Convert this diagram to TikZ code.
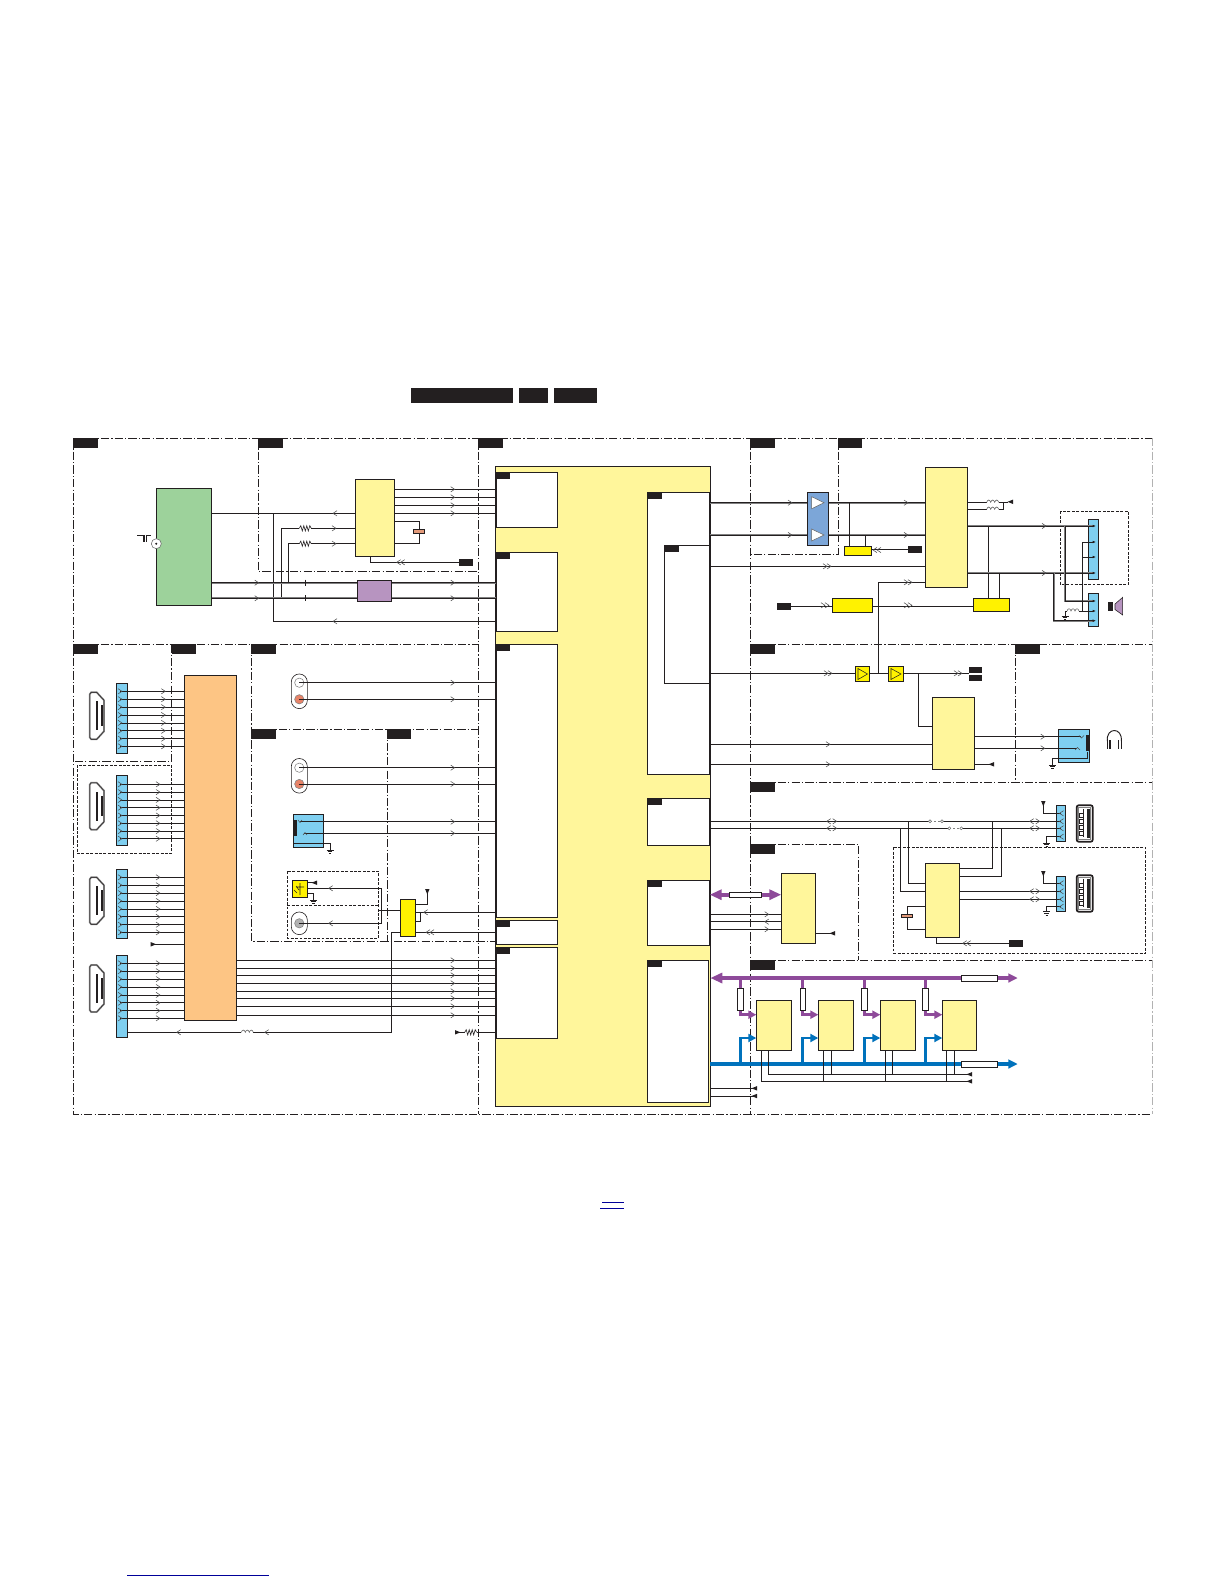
\documentclass[tikz,border=0pt]{standalone}
\usetikzlibrary{arrows.meta}
\definecolor{ylw}{HTML}{FFF69B}
\definecolor{byl}{HTML}{FFF200}
\definecolor{grn}{HTML}{9DD29B}
\definecolor{org}{HTML}{FDC584}
\definecolor{pur}{HTML}{B794C0}
\definecolor{cbl}{HTML}{7FCFF0}
\definecolor{abl}{HTML}{7CA6D8}
\definecolor{pbs}{HTML}{8E4A9A}
\definecolor{bbs}{HTML}{0072BC}
\definecolor{cap}{HTML}{E39A7A}
\definecolor{blk}{HTML}{231F20}
\definecolor{lnk}{HTML}{000099}
\tikzset{
  bx/.style={draw=blk,line width=.65pt,inner sep=0pt,outer sep=0pt,rectangle},
  yb/.style={bx,fill=ylw},
  wb/.style={bx,fill=white},
  bb/.style={bx,fill=byl},
  cb/.style={bx,fill=cbl},
  lab/.style={fill=blk,inner sep=0pt,outer sep=0pt,rectangle},
  rgn/.style={draw=blk,line width=.6pt,dash pattern=on 6.2pt off 1.6pt on .9pt off 1.6pt},
  dsh/.style={draw=blk,line width=.6pt,dash pattern=on 2.2pt off 1.1pt},
  wire/.style={draw=blk,line width=.6pt},
  gbus/.style={draw=gray,line width=1.4pt,postaction={draw=blk,line width=.55pt}},
  chev/.style={draw=black!70,line width=.4pt},
  pb/.style={draw=pbs,line width=3pt},
  pb2/.style={draw=pbs,line width=2pt},
  lb/.style={draw=bbs,line width=3pt},
  lb2/.style={draw=bbs,line width=2pt},
  tipB/.style={-{Triangle[length=7pt,width=6.5pt]}},
  tipS/.style={-{Triangle[length=6pt,width=6pt]}},
}
\newcommand\bx[6]{\pgfmathsetmacro\bxw{(#5-#3)*0.75}\pgfmathsetmacro\bxh{(#6-#4)*0.75}%
  \node[#1,minimum width=\bxw pt,minimum height=\bxh pt] (#2) at ({(#3+#5)/2},{(#4+#6)/2}) {};}
\newcommand\hw[4][wire]{\draw[#1] (#2.east |- 0,#4) -- (#3.west |- 0,#4);}
\newcommand\ar[2]{\draw[chev] (#1,#2) ++(-2,-2.6) -- ++(4,2.6) -- ++(-4,2.6);}
\newcommand\al[2]{\draw[chev] (#1,#2) ++(2,-2.6) -- ++(-4,2.6) -- ++(4,2.6);}
\newcommand\arr[2]{\ar{#1-2}{#2}\ar{#1+2}{#2}}
\newcommand\all[2]{\al{#1-2}{#2}\al{#1+2}{#2}}
\newcommand\ab[2]{\draw[chev] (#1,#2) ++(-1,-2.6) -- ++(-4,2.6) -- ++(4,2.6) ++(2,-5.2) -- ++(4,2.6) -- ++(-4,2.6);}
\newcommand\tmL[2]{\fill[blk] (#1,#2-2.2) -- (#1,#2+2.2) -- (#1+5.5,#2) -- cycle;}
\newcommand\tmR[2]{\fill[blk] (#1,#2-2.2) -- (#1,#2+2.2) -- (#1-5.5,#2) -- cycle;}
\newcommand\tmD[2]{\fill[blk] (#1-2.2,#2) -- (#1+2.2,#2) -- (#1,#2+5.5) -- cycle;}
\newcommand\gnd[2]{\draw[wire,line width=.5pt] (#1-3.5,#2) -- ++(7,0) (#1-2.3,#2+1.6) -- ++(4.6,0) (#1-1.2,#2+3.2) -- ++(2.4,0);}
\newcommand\res[2]{\draw[draw=white,line width=1.2pt] (#1-6,#2) -- ++(12,0);
  \draw[wire,line width=.45pt] (#1-6,#2) -- ++(1.5,-2.6) -- ++(1.5,5.2) -- ++(1.5,-5.2) -- ++(1.5,5.2) -- ++(1.5,-5.2) -- ++(1.5,5.2) -- ++(1.5,-5.2) -- ++(1.5,2.6);}
\newcommand\fus[2]{\draw[draw=white,line width=1.2pt] (#1-6,#2) -- ++(12,0);
  \draw[draw=black!60,line width=.45pt] (#1-6,#2) .. controls (#1-5,#2-3) and (#1-3,#2-3) .. (#1-2,#2) .. controls (#1-1,#2-3) and (#1+1,#2-3) .. (#1+2,#2) .. controls (#1+3,#2-3) and (#1+5,#2-3) .. (#1+6,#2);}
\newcommand\tick[2]{\draw[wire] (#1,#2-3) -- ++(0,6);}
\newcommand\hdmi[1]{\begin{scope}[shift={(89.7,#1)}]
  \draw[draw=gray,line width=1.3pt,fill=white,postaction={draw=blk,line width=.3pt}] (1.5,0) -- (7,0) -- (14.3,8) -- (14.3,39) -- (7,47) -- (1.5,47) -- (0,45) -- (0,2) -- cycle;
  \fill[blk] (6.4,9) rectangle (8.6,38);
  \fill[blk] (11.3,13) rectangle (13,33.5);
\end{scope}}
\newcommand\usbs[2]{\begin{scope}[shift={(#1,#2)}]
  \draw[draw=blk,line width=1.3pt,rounded corners=1.5pt,fill=white] (0,0) rectangle (16,36.4);
  \draw[draw=gray,line width=.5pt] (2,2.5) rectangle (14,34);
  \fill[black!85] (10.5,3.5) rectangle (13.5,33);
  \foreach \k in {8,14,20,26} {\draw[wire,line width=.7pt,fill=white] (3,\k) rectangle (7,\k+4);}
  \draw[wire,line width=.7pt] (7,4) -- (7,32);
\end{scope}}
\begin{document}
\begin{tikzpicture}[x=0.75pt,y=-0.75pt]
\path[use as bounding box,fill=white] (0,0) rectangle (1224,1584);
% title bars
\bx{lab}{tA}{411}{388}{513}{402.7}
\bx{lab}{tB}{519}{388}{548}{402.7}
\bx{lab}{tC}{554}{388}{597}{402.7}
% region frames
\draw[rgn] (73.5,438) -- (1152,438);
\draw[rgn] (73.5,438) -- (73.5,1114) -- (1152,1114);
\draw[rgn,draw=black!30] (1152,438) -- (1152,1114);
\draw[rgn] (258,438) -- (258,571) -- (478,571);
\draw[rgn] (478,438) -- (478,1114);
\draw[rgn] (750.3,438) -- (750.3,1114);
\draw[rgn] (838.3,438) -- (838.3,554) -- (750.3,554);
\draw[rgn] (73.5,644.3) -- (478,644.3);
\draw[rgn] (750.3,644.3) -- (1152,644.3);
\draw[rgn] (171.7,644.3) -- (171.7,761.7) -- (73.5,761.7);
\draw[rgn] (251.3,644.3) -- (251.3,941) -- (495.3,941);
\draw[rgn] (251.3,729.3) -- (478,729.3);
\draw[rgn] (387.3,729.3) -- (387.3,941);
\draw[rgn] (1015.3,644.3) -- (1015.3,782.3);
\draw[rgn] (750.3,782.3) -- (1152,782.3);
\draw[rgn] (750.3,844.3) -- (858.3,844.3) -- (858.3,960.3);
\draw[rgn] (750.3,960.3) -- (1152,960.3);
% dashed frames
\draw[dsh] (77.3,765) rectangle (171.7,853.3);
\draw[dsh] (287.3,871.3) rectangle (378.3,938.3);
\draw[dsh] (287.3,905.3) -- (378.3,905.3);
\draw[dsh] (1060.3,511.3) rectangle (1128.3,584.7);
\draw[dsh] (893.7,847.3) rectangle (1145.7,953.3);
% region labels
\bx{lab}{l1}{73}{438}{98}{448}
\bx{lab}{l2}{258}{438}{283}{448}
\bx{lab}{l3}{478}{438}{503}{448}
\bx{lab}{l4}{750}{438}{775}{448}
\bx{lab}{l5}{838}{438}{862}{448}
\bx{lab}{l6}{73}{644}{98}{654}
\bx{lab}{l7}{171.7}{644}{196}{654}
\bx{lab}{l8}{251.3}{644}{276}{654}
\bx{lab}{l9}{750}{644}{775}{654}
\bx{lab}{l10}{1015.3}{644}{1040}{654}
\bx{lab}{l11}{251.3}{729.3}{276}{739}
\bx{lab}{l12}{387.3}{729.3}{411}{739}
\bx{lab}{l13}{750}{782.3}{775}{792}
\bx{lab}{l14}{750}{844.3}{775}{854}
\bx{lab}{l15}{750}{960.3}{775}{970}
% main block
\bx{yb}{main}{495.3}{466.3}{710.3}{1106}
\bx{wb}{b1}{496.3}{472.3}{557.3}{527.3}
\bx{wb}{b2}{496.3}{552.3}{557.3}{631.3}
\bx{wb}{b3}{496.3}{644.3}{557.3}{917.3}
\bx{wb}{b4}{496.3}{920.3}{557.3}{944.3}
\bx{wb}{b5}{496.3}{947.3}{557.3}{1038.3}
\bx{wb}{r1}{647.3}{492.3}{709.7}{774.3}
\bx{wb}{r1i}{664.3}{545.3}{709.7}{683.3}
\bx{wb}{r2}{647.3}{798.3}{709.7}{845.3}
\bx{wb}{r3}{647.3}{880.3}{709.7}{945.3}
\bx{wb}{r4}{647.3}{960.3}{708.7}{1102.3}
\draw[draw=blk,line width=1pt] (main.north west |- b1.north) -- (main.west |- b5.south);
\draw[draw=blk,line width=1pt] (main.north east |- r1.north) -- (main.east |- r1.south);
\draw[draw=blk,line width=1pt] (main.north east |- r2.north) -- (main.east |- r2.south);
\draw[draw=blk,line width=1pt] (main.north east |- r3.north) -- (main.east |- r3.south);
\bx{lab}{s1}{496.3}{472.3}{510}{479}
\bx{lab}{s2}{496.3}{552.3}{510}{559}
\bx{lab}{s3}{496.3}{644.3}{510}{651}
\bx{lab}{s4}{496.3}{920.3}{510}{927}
\bx{lab}{s5}{496.3}{947.3}{510}{954}
\bx{lab}{s6}{647.3}{492.3}{661.7}{499}
\bx{lab}{s7}{664.3}{545.3}{679}{552}
\bx{lab}{s8}{647.3}{798.3}{661.7}{805}
\bx{lab}{s9}{647.3}{880.3}{661.7}{887}
\bx{lab}{s10}{647.3}{960.3}{661.7}{967}
% top-left: tuner etc
\bx{bx,fill=grn}{green}{156.3}{488.3}{211.7}{605.3}
\bx{yb}{ya}{355.3}{479.3}{394.3}{556.3}
\bx{bx,fill=pur}{pbox}{357.3}{580.3}{391.7}{601.3}
\bx{lab}{t1}{459}{559}{473}{565.7}
\foreach \y in {489.3,497.3,505.3,513.3} {\hw{ya}{b1}{\y}}
\foreach \x/\y in {452.7/489.3,452.7/497.3,452.7/505.3,452.7/513.3} {\ar{\x}{\y}}
\hw{green}{ya}{513.3}
\al{335}{513.3}
\coordinate (a1) at (273.3,513.3); \coordinate (a2) at (273.3,621.3);
\draw[wire] (a1) -- (a2) -- (b2.west |- a2);
\al{335}{621.3}
\coordinate (a3) at (281.3,598.3); \coordinate (a4) at (281.3,528.3);
\draw[wire] (a3) -- (a4) -- (ya.west |- a4);
\coordinate (a5) at (288.3,582.7); \coordinate (a6) at (288.3,543.7);
\draw[wire] (a5) -- (a6) -- (ya.west |- a6);
\res{305.3}{528.3}\res{305.3}{543.7}\ar{334}{528.3}\ar{334}{543.7}
\hw[gbus]{green}{pbox}{582.7}\hw[gbus]{green}{pbox}{598.3}
\hw[gbus]{pbox}{b2}{582.7}\hw[gbus]{pbox}{b2}{598.3}
\tick{305.3}{582.7}\tick{305.3}{598.3}
\ar{256.7}{582.7}\ar{256.7}{598.3}\ar{452.7}{582.7}\ar{452.7}{598.3}
\bx{bx,fill=cap}{cp1}{413.3}{529}{424.7}{533.7}
\draw[wire] (ya.east |- 0,521.3) -| (cp1.north);
\draw[wire] (ya.east |- 0,543.3) -| (cp1.south);
\draw[wire] (ya.south -| 370.3,0) |- (t1.west);
\all{400.7}{562.3}
% antenna
\node[circle,draw=black!60,line width=.4pt,fill=white,minimum size=7.5pt,inner sep=0pt] (ant) at (156.3,543.7) {};
\fill[blk] (ant.center) circle (1.1);
\draw[wire,line width=.9pt] (137.3,535.7) -- (144,535.7) -- (144,542) (150.7,535.7) -- (146.3,535.7) -- (146.3,542);
% HDMI column
\hdmi{692.3}\hdmi{782.7}\hdmi{877.3}\hdmi{965}
\bx{cb}{c1}{116.3}{683.3}{127.7}{753.7}
\bx{cb}{c2}{116.3}{775.3}{127.7}{845.7}
\bx{cb}{c3}{116.3}{869.3}{127.7}{938.7}
\bx{cb}{c4}{116.3}{955.3}{127.7}{1037.7}
\bx{bx,fill=org}{obox}{184.3}{675.3}{236.7}{1020.3}
\foreach \y in {691.3,699.2,707.1,715,722.9,730.8,738.7,746.3} {\draw[wire] ([xshift=-1.5pt]c1.center |- 0,\y) -- (obox.west |- 0,\y); \ar{163.3}{\y}\ar{120}{\y}}
\foreach \y in {784.3,792.1,799.9,807.7,815.5,823.3,831.1,838.7} {\draw[wire] ([xshift=-1.5pt]c2.center |- 0,\y) -- (obox.west |- 0,\y); \ar{158}{\y}\ar{120}{\y}}
\foreach \y in {877.3,885.2,893.1,901,908.9,916.8,924.7,932.3} {\draw[wire] ([xshift=-1.5pt]c3.center |- 0,\y) -- (obox.west |- 0,\y); \ar{158}{\y}\ar{120}{\y}}
\foreach \y in {963.3,971.2,979.1,987,994.9,1002.8,1010.7,1018.3} {\draw[wire] ([xshift=-1.5pt]c4.center |- 0,\y) -- (obox.west |- 0,\y); \ar{158}{\y}\ar{120}{\y}}
\coordinate (tm1) at (150.7,944.3);
\draw[wire] (obox.west |- tm1) -- (tm1);
\tmL{150.7}{944.3}
\foreach \y in {960.3,968.3,975.3,983.3,991.3,998.3,1006.3,1015.3} {\hw{obox}{b5}{\y}\ar{452.7}{\y}}
% RCA inputs
\node[draw=blk,line width=.45pt,fill=white,rounded corners=6pt,minimum width=12pt,minimum height=26pt,inner sep=0pt] (rca1) at (299.3,691.3) {};
\node[circle,draw=black!50,line width=.4pt,fill=white,minimum size=7pt,inner sep=0pt] (r1w) at (299.3,682.7) {};
\node[circle,draw=black!50,line width=.4pt,fill=cap!85!red,minimum size=7pt,inner sep=0pt] (r1r) at (299.3,699.3) {};
\draw[wire] (r1w.center) -- (b3.west |- r1w); \draw[wire] (r1r.center) -- (b3.west |- r1r);
\ar{452.7}{682.7}\ar{452.7}{699.3}
\node[draw=blk,line width=.45pt,fill=white,rounded corners=6pt,minimum width=12pt,minimum height=26pt,inner sep=0pt] (rca2) at (299.3,775.8) {};
\node[circle,draw=black!50,line width=.4pt,fill=white,minimum size=7pt,inner sep=0pt] (r2w) at (299.3,767.7) {};
\node[circle,draw=black!50,line width=.4pt,fill=cap!85!red,minimum size=7pt,inner sep=0pt] (r2r) at (299.3,784) {};
\draw[wire] (r2w.center) -- (b3.west |- r2w); \draw[wire] (r2r.center) -- (b3.west |- r2r);
\ar{452.7}{767.7}\ar{452.7}{784}
% side jack
\bx{cb}{jk1}{293.3}{814.3}{323.7}{847.7}
\fill[blk] (293.3,820) rectangle (297,836);
\draw[wire] ([xshift=5pt]jk1.west |- 0,821.7) -- (b3.west |- 0,821.7);
\draw[wire] ([xshift=8pt]jk1.west |- 0,833.3) -- (b3.west |- 0,833.3);
\ar{452.7}{821.7}\ar{452.7}{833.3}
\draw[chev] (298,820) -- (300,822.5) -- (302,820);
\draw[chev] (303,835) -- (305,832.5) -- (307,835);
\coordinate (g1) at (330,850);
\draw[wire] (jk1.west |- 0,843.3) -- (330,843.3) -- (g1);
\gnd{330}{850}
% sensor, coax, switch
\bx{bb}{sens}{292.3}{880.7}{307.7}{897.3}
\draw[wire,line width=.4pt] (300,883) -- (300,895) (296,887) -- (304,887) (296,886) -- (299,890) (294,890) -- (297,893);
\node[draw=blk,line width=.45pt,fill=white,rounded corners=6pt,minimum width=12pt,minimum height=17pt,inner sep=0pt] (coax) at (299.3,923.3) {};
\node[circle,draw=black!50,line width=.4pt,fill=black!30,minimum size=7pt,inner sep=0pt] (coaxi) at (299.3,923.3) {};
\bx{bb}{sw}{400.3}{899.3}{415.7}{936.7}
\coordinate (v1) at (381.7,888.3); \coordinate (v2) at (381.7,923.3); \coordinate (v3) at (379,910.7);
\draw[wire] (sens.east |- v1) -- (v1) -- (v2) -- (coaxi.center);
\draw[wire] (v3) -- (sw.west |- v3);
\al{330.7}{888.3}\al{330.7}{923.3}
\draw[wire] (sens.east |- 0,882.7) -- (314,882.7); \tmR{317}{882.7}
\draw[wire] (sens.east |- 0,893.3) -- (313.3,893.3) -- (313.3,900);
\gnd{313.3}{900}
\hw{sw}{b4}{932.3}
\draw[wire] (sw.east |- 0,912.3) -- (b3.west |- 0,912.3);
\al{425.7}{912.3}\all{430}{932.3}
\draw[wire] (sw.east |- 0,904.3) -- (427.3,904.3) -- (427.3,892);
\tmD{427.3}{889}
\draw[wire] (420.3,912.3) -- (420.3,921.7) -- (sw.east |- 0,921.7);
\coordinate (v4) at (391.7,932.3);
\draw[wire] (c4.east |- 0,1032.3) -- (391.7,1032.3) -- (v4) -- (sw.west |- v4);
\al{178.7}{1032.3}\al{266.7}{1032.3}\fus{247.3}{1032.3}
\coordinate (tm2) at (455,1032.3);
\draw[wire] (b5.west |- tm2) -- (tm2);
\res{470.7}{1032.3}\tmL{455}{1032.3}
% amp block
\bx{bx,fill=abl}{amp}{807.3}{492.3}{828.7}{545.3}
\draw[draw=black!60,line width=.4pt,fill=white] (811.7,496.7) -- (824,502.7) -- (811.7,508.7) -- cycle;
\draw[draw=black!60,line width=.4pt,fill=white] (811.7,529) -- (824,535) -- (811.7,541) -- cycle;
\bx{yb}{yc}{925.3}{467.3}{967.7}{587.3}
\hw[gbus]{r1}{amp}{502.7}\hw[gbus]{r1}{amp}{535}
\hw[gbus]{amp}{yc}{502.7}\hw[gbus]{amp}{yc}{535}
\ar{790}{502.7}\ar{790}{535}\ar{906}{502.7}\ar{906}{535}
\hw{r1i}{yc}{566.3}\arr{827}{566.3}
\bx{bb}{yd}{844.3}{546.3}{871.7}{555.3}
\draw[wire] (yd.north -| 849,0) -- (849,502.7);
\draw[wire] (yd.north -| 865,0) -- (865,535);
\bx{lab}{t2}{908}{546.3}{922}{553}
\draw[wire] (t2.west) -- (yd.east |- t2);
\all{877}{550}
\bx{lab}{t3}{777}{603}{791}{610}
\bx{bb}{ye}{832.3}{598.3}{872.7}{612.7}
\bx{bb}{yf}{973.3}{598.3}{1009.7}{611.7}
\draw[wire] (t3.east) -- (ye.west |- t3);
\draw[wire] (ye.east |- t3) -- (yf.west |- t3);
\arr{825}{605.3}\arr{908}{605.3}
\draw[wire] (yf.north -| 988.3,0) -- (988.3,526);
\draw[wire] (yf.north -| 999.3,0) -- (999.3,573);
\draw[wire] (yc.east |- 0,502.3) -- (1003.3,502.3) -- (1003.3,509.3) -- (yc.east |- 0,509.3);
\draw[wire] (1003.3,502) -- (1008,502);
\tmR{1013}{501.8}
\fus{992.7}{502.3}\fus{992.7}{509.3}
% speaker connectors
\bx{cb}{c5}{1088.3}{519.3}{1098.7}{579.7}
\bx{cb}{c6}{1088.3}{593.3}{1098.7}{626.7}
\draw[gbus] (yc.east |- 0,526) -- (c5.center |- 0,526);
\draw[gbus] (yc.east |- 0,573) -- (c5.center |- 0,573);
\ar{1044}{526}\ar{1044}{573}
\draw[gbus] (1065,526) -- (1065,601) -- (c6.center |- 0,601);
\draw[gbus] (1053.7,573) -- (1053.7,620.7) -- (c6.center |- 0,620.7);
\coordinate (w1) at (1082.3,542); \coordinate (w2) at (1082.3,611);
\draw[wire] (c5.center |- w1) -- (w1) -- (w2) -- (c6.center |- w2);
\draw[wire] (w2 |- 0,557) -- (c5.center |- 0,557);
\draw[wire] (w2) -- (1065,611) -- (1065,616);
\fus{1073}{611}\gnd{1065}{616}
\foreach \y in {526,542,557,573} {\draw[blk,line width=.7pt,-{Latex[length=2.5pt,width=2pt]}] (1090,\y) -- (1096,\y);}
\foreach \y in {601,611,620.7} {\draw[blk,line width=.7pt,-{Latex[length=2.5pt,width=2pt]}] (1090,\y) -- (1096,\y);}
\bx{lab}{spk}{1108}{602}{1113}{611}
\draw[wire,fill=pur,line width=.4pt] (1115,604) -- (1122.7,597.3) -- (1122.7,615) -- (1115,609.5) -- cycle;
% headphone amp
\bx{bb}{tr1}{855.3}{666.3}{869.7}{681.7}
\bx{bb}{tr2}{888.3}{666.3}{903.7}{681.7}
\draw[wire,line width=.4pt] (858,668.5) -- (867.5,674) -- (858,679.5) -- cycle;
\draw[wire,line width=.4pt] (891,668.5) -- (901,674) -- (891,679.5) -- cycle;
\bx{lab}{t4}{969}{667}{982}{673}
\bx{lab}{t5}{969}{674.7}{982}{680.7}
\draw[wire] (r1i.east |- 0,673.3) -- (tr1.west |- 0,673.3);
\draw[wire] (tr1.east |- 0,673.3) -- (tr2.west |- 0,673.3);
\draw[wire] (tr2.east |- 0,673.3) -- (t4.west |- 0,673.3);
\arr{828}{673.3}\arr{958}{673.3}
\coordinate (h1) at (878.3,673.3); \coordinate (h2) at (878.3,582.3);
\draw[wire] (h1) -- (h2) -- (yc.west |- h2);
\arr{908}{582.3}
\bx{yb}{yf2}{932.3}{697.3}{974.7}{769.3}
\coordinate (h3) at (918.3,673.3); \coordinate (h4) at (918.3,726.7);
\draw[wire] (h3) -- (h4) -- (yf2.west |- h4);
\hw{r1}{yf2}{744.3}\hw{r1}{yf2}{764.3}
\ar{828}{744.3}\ar{828}{764.3}
\bx{cb}{jk2}{1058.3}{729.3}{1089.7}{762.7}
\fill[blk] (1086,735) rectangle (1089.7,750.7);
\draw[wire] (yf2.east |- 0,736.7) -- (1081,736.7);
\draw[wire] (yf2.east |- 0,748.3) -- (1077,748.3);
\ar{1042.7}{736.7}\ar{1042.7}{748.3}
\draw[chev] (1079,735.5) -- (1081.5,738) -- (1084,735.5);
\draw[chev] (1075,750) -- (1077.5,747.5) -- (1080,750);
\draw[wire] (1087,752) -- (1087,758.3) -- (1052.3,758.3) -- (1052.3,765);
\gnd{1052.3}{765}
\coordinate (tm3) at (994,764.3);
\draw[wire] (yf2.east |- tm3) -- (tm3);
\tmR{994}{764.3}
% headphones
\draw[wire,line width=.7pt] (1107.3,741) .. controls (1106,727) and (1122.6,727) .. (1121.3,741);
\draw[wire,line width=.9pt] (1110,740) -- (1110,749) (1118.7,740) -- (1118.7,749);
\draw[wire,line width=.6pt] (1107.3,740) -- (1107.3,749) (1121.3,740) -- (1121.3,749);
% USB
\bx{cb}{u1}{1056.3}{805.3}{1065.7}{841.7}
\bx{cb}{u2}{1056.3}{876.3}{1065.7}{911.7}
\usbs{1076.7}{805.3}\usbs{1076.7}{875.3}
\bx{yb}{yg}{925.3}{863.3}{959.7}{937.3}
\draw[wire] (r2.east |- 0,821.3) -- (930,821.3);
\draw[wire] (942,821.3) -- (u1.center |- 0,821.3);
\draw[wire] (r2.east |- 0,828.3) -- (949.3,828.3);
\draw[wire] (961.3,828.3) -- (u1.center |- 0,828.3);
\draw[draw=black!50,line width=.4pt,dash pattern=on 1.5pt off 1.5pt] (930,821.3) -- (942,821.3) (949.3,828.3) -- (961.3,828.3);
\foreach \x/\y in {930/821.3,942/821.3,949.3/828.3,961.3/828.3} {\draw[draw=black!60,line width=.35pt,fill=white] (\x-1.5,\y) -- (\x,\y-1.5) -- (\x+1.5,\y) -- (\x,\y+1.5) -- cycle;}
\ab{831.7}{821.3}\ab{831.7}{828.3}\ab{1034.7}{821.3}\ab{1034.7}{828.3}
\draw[wire] (908,821.3) |- (yg.west |- 0,883.3);
\draw[wire] (900.3,828.3) |- (yg.west |- 0,891.3);
\draw[wire] (yg.east |- 0,868.3) -| (992.3,821.3);
\draw[wire] (yg.east |- 0,876.3) -| (1001.3,828.3);
\draw[wire] (yg.east |- 0,891.3) -- (u2.center |- 0,891.3);
\draw[wire] (yg.east |- 0,899.3) -- (u2.center |- 0,899.3);
\ab{1034.7}{891.3}\ab{1034.7}{899.3}
\draw[wire] (1043.3,804) |- (u1.center |- 0,813.3);
\tmD{1043.3}{801}
\draw[wire] (u1.center |- 0,836.7) -- (1046.7,836.7) -- (1046.7,843);
\gnd{1046.7}{843}
\draw[wire] (1043.3,874) |- (u2.center |- 0,883.3);
\tmD{1043.3}{871}
\draw[wire] (u2.center |- 0,906.7) -- (1046.7,906.7) -- (1046.7,911.7);
\gnd{1046.7}{911.7}
\foreach \y in {813.3,821.3,828.3,836.7,883.3,891.3,899.3,906.7} {\al{1061.5}{\y}}
\bx{bx,fill=cap}{cp2}{901.3}{914}{912.7}{917.7}
\draw[wire] (yg.west |- 0,906.7) -| (cp2.north);
\draw[wire] (yg.west |- 0,929.3) -| (cp2.south);
\bx{lab}{t6}{1008.7}{940.3}{1023}{946.7}
\draw[wire] (yg.south -| 936.3,0) |- (t6.west);
\all{966.7}{943.3}
% H block
\bx{yb}{yh}{781.3}{873.3}{815.7}{943.3}
\hw{r3}{yh}{914.3}\hw{r3}{yh}{921.7}\hw{r3}{yh}{929.3}
\ar{766.7}{914.3}\al{766.7}{921.7}\ar{766.7}{929.3}
\coordinate (tm4) at (835,933.3);
\draw[wire] (yh.east |- tm4) -- (tm4);
\tmR{835}{933.3}
\draw[pb,{Triangle[length=9pt,width=7.5pt]}-{Triangle[length=9pt,width=7.5pt]}] (r3.east |- 0,894.7) -- (yh.west |- 0,894.7);
\bx{wb}{ws0}{729.3}{892.3}{761.7}{897.3}
% memory row
\bx{yb}{m1}{756.3}{1000.3}{791.7}{1050.3}
\bx{yb}{m2}{818.3}{1000.3}{853.7}{1050.3}
\bx{yb}{m3}{880.3}{1000.3}{915.7}{1050.3}
\bx{yb}{m4}{942.3}{1000.3}{976.7}{1050.3}
\bx{wb}{ws1}{961.3}{975}{997.7}{981.7}
\bx{wb}{ws2}{961.3}{1061}{997.7}{1067}
\coordinate (pt) at (1017.7,978); \coordinate (bt) at (1017.7,1064);
\foreach \i/\x in {1/740.3,2/802.3,3/864.3,4/925.3} {
  \draw[pb2,tipS] (\x,978) -- (\x,1014.7) -- (m\i.west |- 0,1014.7);
  \draw[lb2,tipS] (\x,1064) -- (\x,1038) -- (m\i.west |- 0,1038);
}
\bx{wb}{rr1}{737.3}{988.3}{743.7}{1010.3}
\bx{wb}{rr2}{800.3}{988.3}{805.7}{1010.3}
\bx{wb}{rr3}{861.3}{988.3}{867.7}{1010.3}
\bx{wb}{rr4}{922.3}{988.3}{928.7}{1010.3}
\draw[pb,{Triangle[length=9pt,width=7.5pt]}-] (main.east |- pt) -- (ws1.west |- pt);
\draw[pb,tipB] (ws1.east |- pt) -- (pt);
\draw[lb] (main.east |- bt) -- (ws2.west |- bt);
\draw[lb,tipB] (ws2.east |- bt) -- (bt);
\coordinate (tm5) at (971.7,1074.3); \coordinate (tm6) at (971.7,1081.3);
\draw[wire] (m1.south -| 768.3,0) |- (tm5);
\draw[wire] (m1.south -| 761.7,0) |- (tm6);
\draw[wire] (m2.south -| 831.3,0) -- (831.3,1074.3);
\draw[wire] (m2.south -| 823.3,0) -- (823.3,1081.3);
\draw[wire] (m3.south -| 892.3,0) -- (892.3,1074.3);
\draw[wire] (m3.south -| 885.7,0) -- (885.7,1081.3);
\draw[wire] (m4.south -| 954.3,0) -- (954.3,1074.3);
\draw[wire] (m4.south -| 946.7,0) -- (946.7,1081.3);
\tmR{972}{1074.3}\tmR{972}{1081.3}
\coordinate (tm7) at (757,1088.3); \coordinate (tm8) at (757,1096);
\draw[wire] (main.east |- tm7) -- (tm7);
\draw[wire] (main.east |- tm8) -- (tm8);
\tmR{757}{1088.3}\tmR{757}{1096}
% link rules
\coordinate (k1) at (602,1202.3); \coordinate (k2) at (624,1202.3);
\coordinate (k3) at (600,1208.3); \coordinate (k4) at (624,1208.3);
\coordinate (k5) at (127.3,1575.3); \coordinate (k6) at (269,1575.3);
\draw[draw=lnk,line width=.7pt] (k1) -- (k2) (k3) -- (k4) (k5) -- (k6);
\end{tikzpicture}
\end{document}
